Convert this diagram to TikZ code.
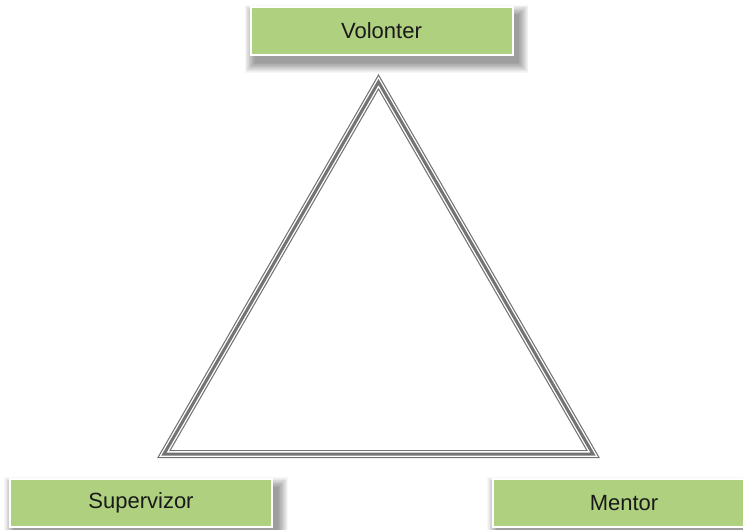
\documentclass[tikz,border=0pt]{standalone}
\usepackage{fontspec}
\setmainfont{Liberation Sans}
\usetikzlibrary{calc}

\definecolor{boxgreen}{RGB}{175,208,127}
\definecolor{edgegray}{RGB}{115,115,115}

\tikzset{
  rolebox/.style={
    rectangle, draw=white, line width=2bp, fill=boxgreen,
    minimum width=262bp, minimum height=48bp, inner sep=0pt,
    font=\fontsize{22bp}{26bp}\selectfont, text=black!90
  },
  triouter/.style={draw=edgegray, line width=8bp, line join=miter},
  trigap/.style={draw=white, line width=5.6bp, line join=miter},
  triinner/.style={draw=edgegray, line width=3bp, line join=miter}
}

% soft shadow: stacked translucent rectangles, offset down and right
\newcommand{\softshadow}[2]{%
  \foreach \k in {0,...,13}{
    \fill[black, opacity=0.03]
      ($(#1)+(5-\k*0.75,8-\k*0.75)$) rectangle ($(#2)+(5+\k*0.75,8+\k*0.75)$);
  }%
}

\begin{document}
\begin{tikzpicture}[x=1bp, y=-1bp]
  \useasboundingbox (0,0) rectangle (743,530);
  \clip (0,0) rectangle (743,530);
  \fill[white] (0,0) rectangle (743,530);

  % corners of the triangle
  \coordinate (top)   at (378.5,82);
  \coordinate (left)  at (164,454);
  \coordinate (right) at (593,454);

  % shadows under the role boxes
  \softshadow{249.5,7}{513.5,55}
  \softshadow{9,479}{273,527}
  \softshadow{492,479}{756,527}

  % triple outline built from stacked strokes
  \draw[triouter] (top) -- (left) -- (right) -- cycle;
  \draw[trigap]   (top) -- (left) -- (right) -- cycle;
  \draw[triinner] (top) -- (left) -- (right) -- cycle;

  % role boxes
  \node[rolebox] (vol) at (381.5,31) {Volonter};
  \node[rolebox] (sup) at (141,503) {Supervizor};
  \node[rolebox] (men) at (624,503) {Mentor};
\end{tikzpicture}
\end{document}
